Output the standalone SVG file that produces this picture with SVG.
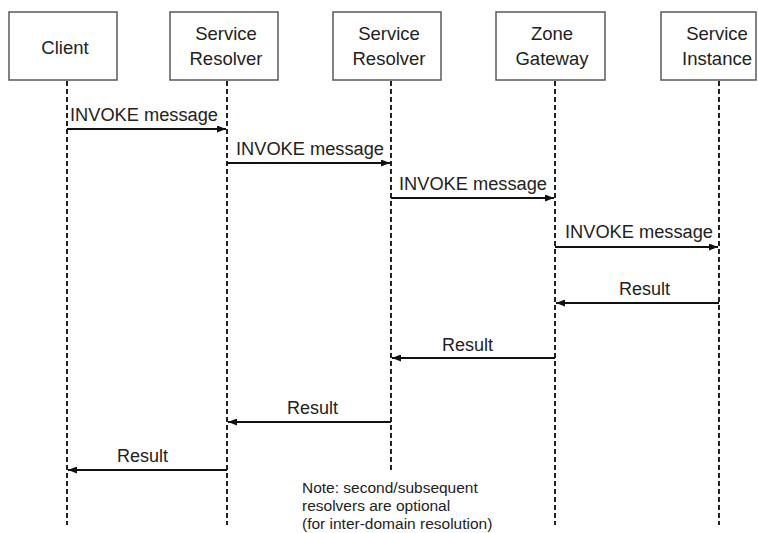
<svg xmlns="http://www.w3.org/2000/svg" width="758" height="533" viewBox="0 0 758 533">
  <style>
    .box { fill: #ffffff; stroke: #5a5a5a; stroke-width: 1.5; }
    .hdr { font-family: "Liberation Sans", Arial, sans-serif; font-size: 18.5px; fill: #222; text-anchor: middle; }
    .life { stroke: #222; stroke-width: 2; stroke-dasharray: 5 3; fill: none; }
    .msg { stroke: #111; stroke-width: 2; fill: none; }
    .lbl { font-family: "Liberation Sans", Arial, sans-serif; font-size: 18px; fill: #222; }
    .note { font-family: "Liberation Sans", Arial, sans-serif; font-size: 15.5px; fill: #222; }
  </style>
  <defs>
    <marker id="arrow" viewBox="0 0 9 7" refX="9" refY="3.5" markerWidth="9" markerHeight="7" markerUnits="userSpaceOnUse" orient="auto">
      <path d="M0,0 L9,3.5 L0,7 z" fill="#111"/>
    </marker>
  </defs>
  <rect width="758" height="533" fill="#ffffff"/>

  <g id="client">
    <rect class="box" x="9" y="12" width="108" height="68"/>
    <text class="hdr" x="65" y="54">Client</text>
  </g>
  <g id="resolver-1">
    <rect class="box" x="170" y="12" width="108" height="68"/>
    <text class="hdr" x="226" y="40">Service</text>
    <text class="hdr" x="226" y="65">Resolver</text>
  </g>
  <g id="resolver-2">
    <rect class="box" x="333" y="12" width="108" height="68"/>
    <text class="hdr" x="389" y="40">Service</text>
    <text class="hdr" x="389" y="65">Resolver</text>
  </g>
  <g id="zone-gateway">
    <rect class="box" x="496" y="12" width="109" height="68"/>
    <text class="hdr" x="552" y="40">Zone</text>
    <text class="hdr" x="552" y="65">Gateway</text>
  </g>
  <g id="service-instance">
    <rect class="box" x="661" y="12" width="95" height="68"/>
    <text class="hdr" x="717" y="40">Service</text>
    <text class="hdr" x="717" y="65">Instance</text>
  </g>

  <g id="lifelines">
    <line class="life" x1="67" y1="81" x2="67" y2="525"/>
    <line class="life" x1="227" y1="81" x2="227" y2="525"/>
    <line class="life" x1="391" y1="81" x2="391" y2="470"/>
    <line class="life" x1="555" y1="81" x2="555" y2="525"/>
    <line class="life" x1="719" y1="81" x2="719" y2="525"/>
  </g>

  <g id="connectors">
    <line class="msg" x1="67" y1="129" x2="226" y2="129" marker-end="url(#arrow)"/>
    <line class="msg" x1="227" y1="163" x2="390" y2="163" marker-end="url(#arrow)"/>
    <line class="msg" x1="391" y1="198" x2="554" y2="198" marker-end="url(#arrow)"/>
    <line class="msg" x1="555" y1="247" x2="718" y2="247" marker-end="url(#arrow)"/>
    <line class="msg" x1="719" y1="303" x2="556" y2="303" marker-end="url(#arrow)"/>
    <line class="msg" x1="555" y1="358" x2="392" y2="358" marker-end="url(#arrow)"/>
    <line class="msg" x1="391" y1="422" x2="228" y2="422" marker-end="url(#arrow)"/>
    <line class="msg" x1="227" y1="470" x2="68" y2="470" marker-end="url(#arrow)"/>
  </g>

  <g id="labels">
    <text class="lbl" x="70" y="121" textLength="148" lengthAdjust="spacingAndGlyphs">INVOKE message</text>
    <text class="lbl" x="236" y="155" textLength="148" lengthAdjust="spacingAndGlyphs">INVOKE message</text>
    <text class="lbl" x="399" y="190" textLength="148" lengthAdjust="spacingAndGlyphs">INVOKE message</text>
    <text class="lbl" x="565" y="238" textLength="148" lengthAdjust="spacingAndGlyphs">INVOKE message</text>
    <text class="lbl" x="619" y="295">Result</text>
    <text class="lbl" x="442" y="351">Result</text>
    <text class="lbl" x="287" y="414">Result</text>
    <text class="lbl" x="117" y="462">Result</text>
  </g>

  <g id="note">
    <text class="note" x="302" y="493">Note: second/subsequent</text>
    <text class="note" x="302" y="511">resolvers are optional</text>
    <text class="note" x="302" y="529">(for inter-domain resolution)</text>
  </g>
</svg>
